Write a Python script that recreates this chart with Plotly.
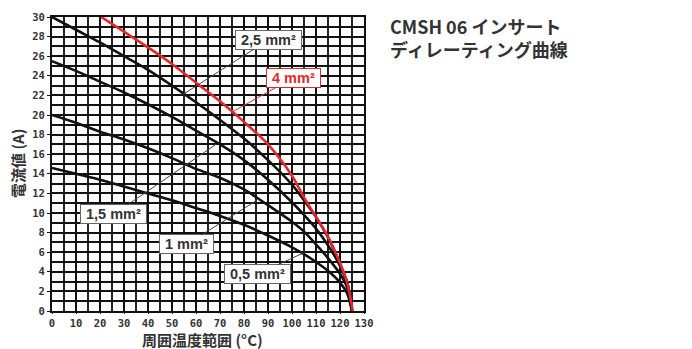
import plotly.graph_objects as go

# ---- data ----
temp_black = [0, 10, 20, 30, 40, 50, 60, 70, 80, 90, 100, 105, 110, 115, 120, 123, 125]
cur_05 = [14.6, 14.0, 13.4, 12.7, 12.0, 11.3, 10.5, 9.7, 8.8, 7.7, 6.5, 5.8, 5.0, 4.1, 2.9, 1.8, 0.0]
cur_10 = [20.0, 19.2, 18.3, 17.5, 16.6, 15.6, 14.5, 13.6, 12.4, 10.8, 9.1, 8.1, 6.8, 5.4, 3.8, 2.4, 0.0]
cur_15 = [25.5, 24.5, 23.4, 22.3, 21.1, 19.8, 18.4, 17.0, 15.4, 13.4, 11.1, 9.8, 8.4, 6.7, 4.6, 2.8, 0.0]
cur_25 = [30.0, 28.7, 27.4, 26.0, 24.6, 23.0, 21.3, 19.5, 17.6, 15.4, 12.9, 11.3, 9.6, 7.5, 4.8, 2.9, 0.0]
temp_red = [20.5, 30, 40, 50, 60, 70, 80, 90, 100, 105, 110, 115, 120, 123, 125.3]
cur_40 = [30.0, 28.5, 26.9, 25.2, 23.3, 21.4, 19.3, 17.0, 13.8, 11.6, 9.6, 7.6, 4.9, 2.9, 0.0]

series_names = ["0,5 mm²", "1 mm²", "1,5 mm²", "2,5 mm²", "4 mm²"]
x_ticks = list(range(0, 131, 10))
y_ticks = list(range(0, 31, 2))
title_lines = ["CMSH 06 インサート", "ディレーティング曲線"]

# label: (name, curve point T, curve point I, label T, label I, colour)
labels = [
    ("2,5 mm²", 54.6, 22.1, 90.4, 27.7, "#333333"),
    ("4 mm²", 75.0, 20.3, 100.6, 23.8, "#e8262a"),
    ("1,5 mm²", 68.3, 17.0, 25.6, 9.85, "#333333"),
    ("1 mm²", 85.4, 11.3, 56.0, 6.8, "#333333"),
    ("0,5 mm²", 105.4, 6.0, 85.6, 3.75, "#333333"),
]

BLACK = "#111111"
RED = "#e8262a"
NBSP = "\u00a0"

fig = go.Figure()
for name, ys in zip(series_names[:4], [cur_05, cur_10, cur_15, cur_25]):
    fig.add_trace(go.Scatter(x=temp_black, y=ys, mode="lines", name=name,
                             line=dict(color=BLACK, width=2.6, shape="spline", smoothing=0.8)))
fig.add_trace(go.Scatter(x=temp_red, y=cur_40, mode="lines", name=series_names[4],
                         line=dict(color=RED, width=2.6, shape="spline", smoothing=0.8)))

annotations = []
for text, px, py, lx, ly, col in labels:
    annotations.append(dict(
        x=px, y=py, xref="x", yref="y", ax=lx, ay=ly, axref="x", ayref="y",
        text=NBSP + text + NBSP, showarrow=True, arrowhead=0, arrowwidth=1,
        arrowcolor="#444444" if col != RED else RED,
        font=dict(family="Liberation Sans", size=14.5, color=col, weight="bold"),
        bgcolor="white", bordercolor="#666666" if col != RED else RED, borderwidth=1, borderpad=1,
    ))

# title and axis titles
annotations.append(dict(text="<br>".join(title_lines), xref="paper", yref="paper", x=(388 - 52) / 312,
                        y=(311 - 32) / 300, xanchor="left", yanchor="middle", align="left",
                        showarrow=False,
                        font=dict(family="Noto Sans CJK JP", size=18, color="#333333", weight="bold")))
annotations.append(dict(text="周囲温度範囲 (°C)", xref="paper", yref="paper", x=(202 - 52) / 312,
                        y=(311 - 340) / 300, xanchor="center", yanchor="middle", showarrow=False,
                        font=dict(family="Noto Sans CJK JP", size=15, color="#333333", weight="bold")))
annotations.append(dict(text="電流値 (A)", xref="paper", yref="paper", x=(17 - 52) / 312, y=0.5,
                        xanchor="center", yanchor="middle", showarrow=False, textangle=-90,
                        font=dict(family="Noto Sans CJK JP", size=15, color="#333333", weight="bold")))

tickfont = dict(family="DejaVu Sans Mono", size=10.5, color="#333333", weight="bold")
fig.update_layout(
    width=692, height=349,
    margin=dict(l=52, r=328, t=11, b=38),
    paper_bgcolor="white", plot_bgcolor="white",
    showlegend=False,
    annotations=annotations,
    xaxis=dict(range=[0, 130], tickvals=x_ticks, ticktext=[str(v) for v in x_ticks],
               showgrid=True, gridcolor=BLACK, gridwidth=1.6,
               minor=dict(dtick=5, showgrid=True, gridcolor="#222222", gridwidth=1.6),
               ticks="outside", ticklen=1, tickcolor=BLACK, tickfont=tickfont,
               showline=True, linecolor=BLACK, linewidth=2, mirror=True, zeroline=False),
    yaxis=dict(range=[0, 30], tickvals=y_ticks, ticktext=[str(v) for v in y_ticks],
               showgrid=True, gridcolor=BLACK, gridwidth=1.6,
               minor=dict(dtick=1, showgrid=True, gridcolor=BLACK, gridwidth=1.6),
               ticks="outside", ticklen=3, tickcolor=BLACK, tickfont=tickfont,
               showline=True, linecolor=BLACK, linewidth=2, mirror=True, zeroline=False),
)

fig.write_html("out.html", config={"displayModeBar": False},
               post_script="document.body.style.margin='0';document.body.style.padding='0';")
